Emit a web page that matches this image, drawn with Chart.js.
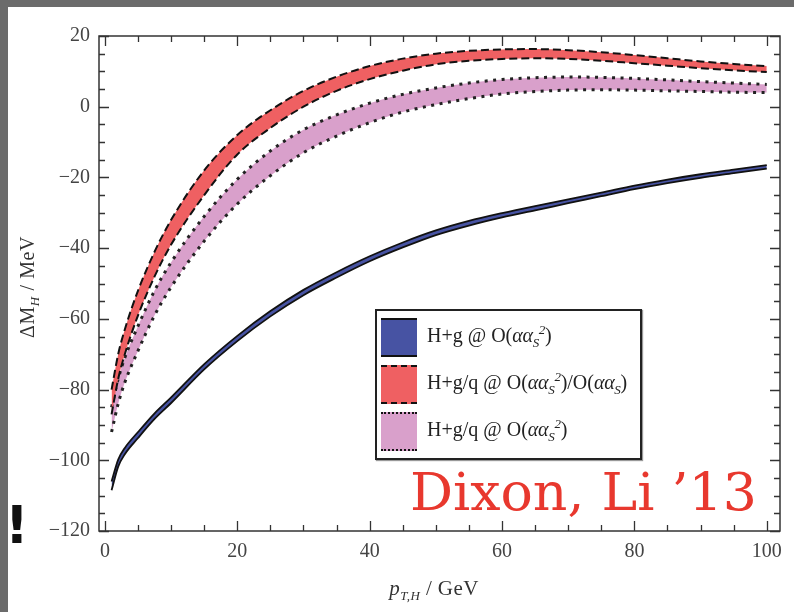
<!DOCTYPE html>
<html>
<head>
<meta charset="utf-8">
<script src="https://cdn.jsdelivr.net/npm/chart.js@4.4.1/dist/chart.umd.min.js"></script>
<style>
  html, body { margin: 0; padding: 0; }
  body { width: 794px; height: 612px; overflow: hidden; position: relative; background: #6b6b6b; font-family: "Liberation Serif", serif; }
  #panel { position: absolute; left: 8px; top: 7px; right: 0; bottom: 0; background: #fff; }
  #chart { position: absolute; left: 0; top: 0; }
  .lbl { position: absolute; color: #333; white-space: nowrap; }
  #ytitle { left: 27px; top: 287px; font-size: 20px; letter-spacing: 0.6px; transform: translate(-50%, -50%) rotate(-90deg); }
  #xtitle { left: 434px; top: 588px; font-size: 21px; letter-spacing: 0.4px; transform: translate(-50%, -50%); }
  #legend { position: absolute; left: 375px; top: 309px; width: 263px; height: 147px; border: 2px solid #222; background: #fff; box-shadow: 1px 1px 1px #999; }
  .row { position: absolute; left: 4px; height: 39px; width: 256px; }
  .sw { position: absolute; left: 0; top: 0; width: 36px; height: 35px; }
  .txt { position: absolute; left: 46px; top: 6px; font-size: 20px; color: #222; }
  .m { font-style: italic; letter-spacing: -0.3px; }
  sub, sup { font-size: 13px; line-height: 0; }
  #dixon { position: absolute; left: 410px; top: 462px; font-family: "DejaVu Serif", serif; font-size: 52px; color: #e8382e; white-space: nowrap; transform-origin: 0 0; }
  #bang { position: absolute; left: 5px; top: 499px; font-family: "DejaVu Sans", sans-serif; font-weight: bold; font-size: 52px; color: #111; line-height: 1; }
</style>
</head>
<body>
<div id="panel"></div>
<canvas id="chart" width="794" height="612"></canvas>
<div class="lbl" id="ytitle">ΔM<sub><i>H</i></sub> / MeV</div>
<div class="lbl" id="xtitle"><i>p</i><sub><i>T,H</i></sub> / GeV</div>
<div id="legend">
  <div class="row" style="top:7px">
    <div class="sw" style="background:#4753a3;border-top:2px solid #111;border-bottom:2px solid #111"></div>
    <div class="txt">H+g @ O(<span class="m">αα<sub>S</sub><sup>2</sup></span>)</div>
  </div>
  <div class="row" style="top:54px">
    <div class="sw" style="background:#ef6062;border-top:2px dashed #111;border-bottom:2px dashed #111"></div>
    <div class="txt">H+g/q @ O(<span class="m">αα<sub>S</sub><sup>2</sup></span>)/O(<span class="m">αα<sub>S</sub></span>)</div>
  </div>
  <div class="row" style="top:101px">
    <div class="sw" style="background:#d9a0cb;border-top:2px dotted #111;border-bottom:2px dotted #111"></div>
    <div class="txt">H+g/q @ O(<span class="m">αα<sub>S</sub><sup>2</sup></span>)</div>
  </div>
</div>
<div id="dixon">Dixon, Li ’13</div>
<div id="bang">!</div>
<script>
// ===== 数据 =====
const ptValues = [1, 2, 3, 5, 7.5, 10, 15, 20, 25, 30, 35, 40, 45, 50, 55, 60, 65, 70, 75, 80, 85, 90, 95, 100];

// H+g @ O(a as^2)
const blueUpper = [-106, -99.8, -96.5, -92, -86.7, -82.2, -72.8, -64.8, -57.8, -51.8, -46.8, -42.3, -38.4, -35, -32.3, -30.1, -28.1, -26.2, -24.3, -22.3, -20.6, -19.1, -17.8, -16.5];
const blueLower = [-108.5, -101.8, -98.3, -93.7, -88.3, -83.8, -74.3, -66.3, -59.3, -53.3, -48.3, -43.7, -39.8, -36.3, -33.6, -31.3, -29.3, -27.3, -25.3, -23.3, -21.6, -20.1, -18.8, -17.5];

// H+g/q @ O(a as^2)/O(a as)
const redUpper = [-80, -70, -63, -52, -41, -32, -18, -8, -1, 4.5, 8.5, 11.5, 13.6, 15, 15.8, 16.2, 16.3, 16, 15.4, 14.6, 13.7, 12.8, 12.1, 11.5];
const redLower = [-87, -77, -70, -59, -48, -39, -25, -13.5, -6, 0, 4.5, 7.8, 10.2, 12, 13, 13.5, 13.7, 13.5, 13, 12.3, 11.6, 10.9, 10.3, 9.8];

// H+g/q @ O(a as^2)
const pinkUpper = [-85, -77, -71, -62, -52, -44, -31, -20.5, -12.5, -6.5, -2.3, 1, 3.5, 5.3, 6.7, 7.7, 8.2, 8.4, 8.3, 8, 7.6, 7.1, 6.7, 6.3];
const pinkLower = [-92, -84, -78, -69, -59, -51, -38, -27.5, -19.5, -13, -8.3, -4.5, -1.5, 0.6, 2.3, 3.6, 4.3, 4.7, 4.8, 4.7, 4.5, 4.3, 4.1, 4];

// 刻度
const xTicks = [0, 20, 40, 60, 80, 100];
const yTicks = [-120, -100, -80, -60, -40, -20, 0, 20];
const xMinorStep = 5;
const yMinorStep = 5;

function pts(ys) { return ys.map((v, i) => ({ x: ptValues[i], y: v })); }

function line(ys, opts) {
  return Object.assign({
    data: pts(ys),
    pointRadius: 0,
    borderColor: '#111',
    borderWidth: 2,
    cubicInterpolationMode: 'monotone',
    fill: false
  }, opts);
}

// 边框 + 内向刻度
const frameTicks = {
  id: 'frameTicks',
  afterDatasetsDraw(chart) {
    const { ctx, chartArea: a, scales: { x, y } } = chart;
    ctx.save();
    ctx.strokeStyle = '#333';
    ctx.lineWidth = 1.5;
    ctx.strokeRect(a.left, a.top, a.right - a.left, a.bottom - a.top);
    ctx.lineWidth = 1.3;
    ctx.beginPath();
    for (let v = 0; v <= 100; v += xMinorStep) {
      const px = Math.round(x.getPixelForValue(v)) + 0.5;
      const len = xTicks.includes(v) ? 10 : 6;
      ctx.moveTo(px, a.bottom); ctx.lineTo(px, a.bottom - len);
      ctx.moveTo(px, a.top); ctx.lineTo(px, a.top + len);
    }
    for (let v = -120; v <= 20; v += yMinorStep) {
      const py = Math.round(y.getPixelForValue(v)) + 0.5;
      const len = yTicks.includes(v) ? 10 : 6;
      ctx.moveTo(a.left, py); ctx.lineTo(a.left + len, py);
      ctx.moveTo(a.right, py); ctx.lineTo(a.right - len, py);
    }
    ctx.stroke();
    ctx.restore();
  }
};

function fmt(v) { return v < 0 ? '\u2212' + Math.abs(v) : String(v); }

new Chart(document.getElementById('chart'), {
  type: 'line',
  data: {
    datasets: [
      line(redUpper, { borderDash: [8, 4] }),
      line(redLower, { borderDash: [8, 4], fill: '-1', backgroundColor: '#ef6062' }),
      line(pinkUpper, { borderDash: [3, 5.5], borderWidth: 3, borderColor: '#222' }),
      line(pinkLower, { borderDash: [3, 5.5], borderWidth: 3, borderColor: '#222', fill: '-1', backgroundColor: '#d9a0cb' }),
      line(blueUpper, { borderWidth: 1.8 }),
      line(blueLower, { borderWidth: 1.8, fill: '-1', backgroundColor: '#4753a3' })
    ]
  },
  options: {
    responsive: false,
    animation: false,
    devicePixelRatio: 1,
    layout: { padding: { left: 0, top: 36, right: 14, bottom: 0 } },
    plugins: { legend: { display: false }, tooltip: { enabled: false } },
    scales: {
      x: {
        type: 'linear',
        min: -0.9,
        max: 102,
        afterBuildTicks: s => { s.ticks = xTicks.map(v => ({ value: v })); },
        afterFit: s => { s.height = 81; },
        grid: { display: false, drawTicks: false },
        border: { display: false },
        ticks: { padding: 9, color: '#444', font: { family: 'Liberation Serif', size: 20 }, maxRotation: 0, callback: v => fmt(v) }
      },
      y: {
        type: 'linear',
        min: -120,
        max: 20,
        afterBuildTicks: s => { s.ticks = yTicks.map(v => ({ value: v })); },
        afterFit: s => { s.width = 99; },
        grid: { display: false, drawTicks: false },
        border: { display: false },
        ticks: { padding: 9, color: '#444', font: { family: 'Liberation Serif', size: 20 }, callback: v => fmt(v) }
      }
    }
  },
  plugins: [frameTicks]
});

// Dixon 标注宽度对齐
const dx = document.getElementById('dixon');
dx.style.transform = 'scaleX(' + (347 / dx.offsetWidth) + ')';
</script>
</body>
</html>
